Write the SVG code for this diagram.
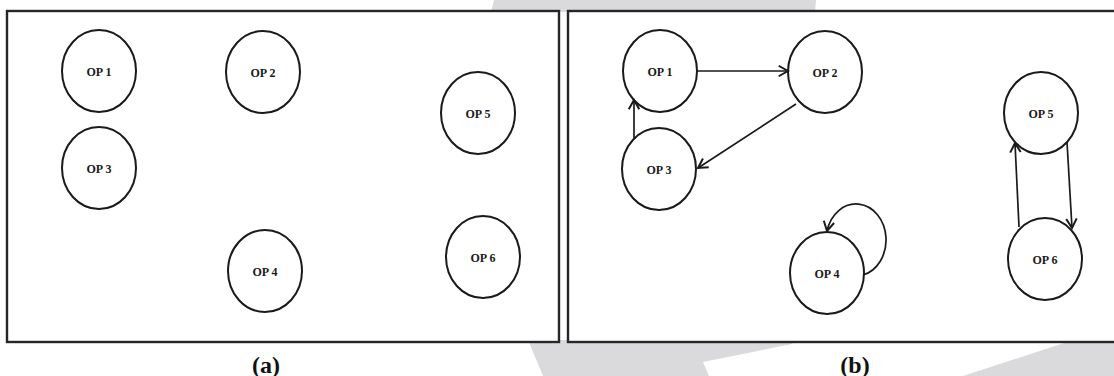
<svg xmlns="http://www.w3.org/2000/svg" width="1114" height="376" viewBox="0 0 1114 376">
  <style>
    .panel { fill: #ffffff; stroke: #262626; stroke-width: 2.4; }
    .node ellipse { fill: #ffffff; stroke: #1a1a1a; stroke-width: 2; }
    .node text { font-family: "Liberation Serif", "Times New Roman", serif; font-weight: bold; font-size: 12px; fill: #1a1a1a; text-anchor: middle; }
    .edge { fill: none; stroke: #1a1a1a; stroke-width: 1.7; marker-end: url(#head); }
    .caption { font-family: "Liberation Serif", "Times New Roman", serif; font-weight: bold; font-size: 24px; fill: #111111; text-anchor: middle; }
    .band { fill: #dadadc; }
  </style>
  <defs>
    <marker id="head" markerUnits="userSpaceOnUse" markerWidth="14" markerHeight="14" viewBox="-10 -6 12 12" refX="0" refY="0" orient="auto">
      <path d="M-8,-4.5 L0,0 L-8,4.5" fill="none" stroke="#1a1a1a" stroke-width="1.7"/>
    </marker>
  </defs>

  <!-- light background bands -->
  <g id="bands">
    <polygon class="band" points="494,0 816,0 815,12 491,12"/>
    <polygon class="band" points="528,340 795,340 792,344 703,362 709,376 543,376"/>
    <polygon class="band" points="963,376 1067,342 1114,342 1114,376"/>
  </g>

  <!-- panel frames -->
  <rect id="panel-a" class="panel" x="7" y="11" width="552" height="331"/>
  <rect id="panel-b" class="panel" x="568" y="11" width="550" height="331"/>

  <!-- panel (a): operators without dependencies -->
  <g id="a-op1" class="node"><ellipse cx="99" cy="71" rx="37" ry="41"/><text x="99" y="76">OP 1</text></g>
  <g id="a-op2" class="node"><ellipse cx="263" cy="72" rx="37" ry="41"/><text x="263" y="77">OP 2</text></g>
  <g id="a-op3" class="node"><ellipse cx="99" cy="168" rx="37" ry="41"/><text x="99" y="173">OP 3</text></g>
  <g id="a-op4" class="node"><ellipse cx="265" cy="271" rx="37" ry="41"/><text x="265" y="276">OP 4</text></g>
  <g id="a-op5" class="node"><ellipse cx="478" cy="113" rx="37" ry="41"/><text x="478" y="118">OP 5</text></g>
  <g id="a-op6" class="node"><ellipse cx="483" cy="257" rx="37" ry="41"/><text x="483" y="262">OP 6</text></g>

  <!-- panel (b): operators with dependencies -->
  <g id="b-op1" class="node"><ellipse cx="660" cy="71" rx="37" ry="41"/><text x="660" y="76">OP 1</text></g>
  <g id="b-op2" class="node"><ellipse cx="825" cy="72" rx="37" ry="41"/><text x="825" y="77">OP 2</text></g>
  <g id="b-op3" class="node"><ellipse cx="659" cy="169" rx="37" ry="41"/><text x="659" y="174">OP 3</text></g>
  <g id="b-op4" class="node"><ellipse cx="827" cy="273" rx="37" ry="41"/><text x="827" y="278">OP 4</text></g>
  <g id="b-op5" class="node"><ellipse cx="1041" cy="113" rx="37" ry="41"/><text x="1041" y="118">OP 5</text></g>
  <g id="b-op6" class="node"><ellipse cx="1045" cy="259" rx="37" ry="41"/><text x="1045" y="264">OP 6</text></g>

  <g id="connectors">
    <path class="edge" d="M697,71 L788,71"/>
    <path class="edge" d="M796,104 L698,168"/>
    <path class="edge" d="M634,139 L634,100"/>
    <path class="edge" d="M863,275 A30,36 0 1 0 827,231"/>
    <path class="edge" d="M1019,227 L1015,143"/>
    <path class="edge" d="M1067,142 L1072,228"/>
  </g>

  <text class="caption" x="266" y="373">(a)</text>
  <text class="caption" x="855" y="373">(b)</text>
</svg>
